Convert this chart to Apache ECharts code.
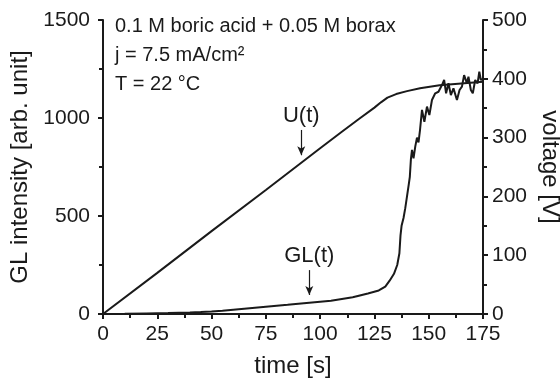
<!DOCTYPE html>
<html>
<head>
<meta charset="utf-8">
<script src="https://cdn.jsdelivr.net/npm/echarts@6/dist/echarts.min.js"></script>
<style>
  html, body { margin: 0; padding: 0; background: #fff; }
  #chart { width: 560px; height: 380px; }
</style>
</head>
<body>
<div id="chart"></div>
<script>
// GL intensity (left axis)
const glTime = [0, 10, 20, 25, 30, 35, 40, 45, 50, 55, 60, 65, 70, 75, 85, 95, 105, 115, 122, 127, 130, 132, 134, 135.5, 136.5, 137, 137.5, 138.4, 139.2, 140, 140.8, 141.3, 141.8, 142.3, 143, 143.8, 144.6, 145.3, 146, 146.9, 148, 149.2, 150.3, 151.5, 153, 154.5, 156.1, 157.1, 158, 159.1, 160.2, 161.4, 163, 164.2, 165.3, 166.3, 167.6, 168.3, 169.4, 170.3, 171.4, 172.5, 173.3, 174, 175]
const glValues = [0, 1, 3, 4, 5, 7, 8, 10, 13, 17, 22, 27, 32, 37, 47, 58, 68, 85, 105, 120, 140, 170, 205, 250, 310, 400, 450, 490, 540, 600, 660, 700, 790, 837, 794, 854, 900, 875, 940, 1041, 981, 1058, 1015, 1092, 1126, 1134, 1168, 1194, 1126, 1177, 1117, 1151, 1092, 1143, 1160, 1219, 1177, 1211, 1143, 1126, 1194, 1177, 1236, 1194, 1200]

// voltage (right axis)
const uTime = [0, 25, 50, 75, 100, 110, 118, 125, 128, 131, 135, 140, 146, 155, 165, 175]
const uValues = [0, 70, 141, 211, 282, 310, 332, 351, 360, 368, 374, 379, 384, 389, 392, 395]

const xTicks = {min: 0, max: 175, interval: 25}
const glTicks = {min: 0, max: 1500, interval: 500}
const uTicks = {min: 0, max: 500, interval: 100}

const infoLines = ['0.1 M boric acid + 0.05 M borax', 'j = 7.5 mA/cm²', 'T = 22 °C']

const ink = '#1a1a1a'
const font = 'Liberation Sans, Arial, sans-serif'

const axisBase = {
  type: 'value',
  axisLine: {show: true, lineStyle: {color: ink, width: 2}},
  axisTick: {show: true, length: 5, lineStyle: {color: ink, width: 2}},
  minorTick: {show: true, splitNumber: 2, length: 4, lineStyle: {color: ink, width: 2}},
  splitLine: {show: false},
  axisLabel: {color: ink, fontSize: 21, fontFamily: font, formatter: v => String(v)},
  nameLocation: 'middle',
  nameTextStyle: {color: ink, fontSize: 24, fontFamily: font},
}

const chart = echarts.init(document.getElementById('chart'))
chart.setOption({
  animation: false,
  backgroundColor: '#fff',
  grid: {left: 103, right: 77, top: 20, bottom: 66, outerBoundsMode: 'none'},
  graphic: infoLines.map((s, i) => ({
    type: 'text',
    left: 115,
    top: 16 + i * 29,
    style: {text: s, fill: ink, font: '20px ' + font},
  })),
  xAxis: {
    ...axisBase, ...xTicks,
    name: 'time [s]', nameGap: 40,
    axisLabel: {...axisBase.axisLabel, margin: 10},
  },
  yAxis: [
    {
      ...axisBase, ...glTicks,
      name: 'GL intensity [arb. unit]', nameGap: 64, nameRotate: 90,
      axisLabel: {...axisBase.axisLabel, margin: 13},
    },
    {
      ...axisBase, ...uTicks, position: 'right',
      name: 'voltage [V]', nameGap: 54, nameRotate: -90,
      axisLabel: {...axisBase.axisLabel, margin: 9},
    },
  ],
  series: [
    {
      name: 'GL(t)', type: 'line', yAxisIndex: 0, symbol: 'none',
      lineStyle: {color: ink, width: 2},
      data: glTime.map((t, i) => [t, glValues[i]]),
      markLine: {
        silent: true, symbol: ['none', 'arrow'], symbolSize: [6, 9],
        lineStyle: {color: ink, width: 1.2, type: 'solid'},
        label: {show: true, position: 'start', formatter: 'GL(t)', color: ink, fontSize: 22, fontFamily: font, distance: 3},
        data: [[{coord: [95, 224]}, {coord: [95, 97]}]],
      },
    },
    {
      name: 'U(t)', type: 'line', yAxisIndex: 1, symbol: 'none',
      lineStyle: {color: ink, width: 2},
      data: uTime.map((t, i) => [t, uValues[i]]),
      markLine: {
        silent: true, symbol: ['none', 'arrow'], symbolSize: [6, 9],
        lineStyle: {color: ink, width: 1.2, type: 'solid'},
        label: {show: true, position: 'start', formatter: 'U(t)', color: ink, fontSize: 22, fontFamily: font, distance: 3},
        data: [[{coord: [91.3, 313]}, {coord: [91.3, 270]}]],
      },
    },
  ],
})
</script>
</body>
</html>
